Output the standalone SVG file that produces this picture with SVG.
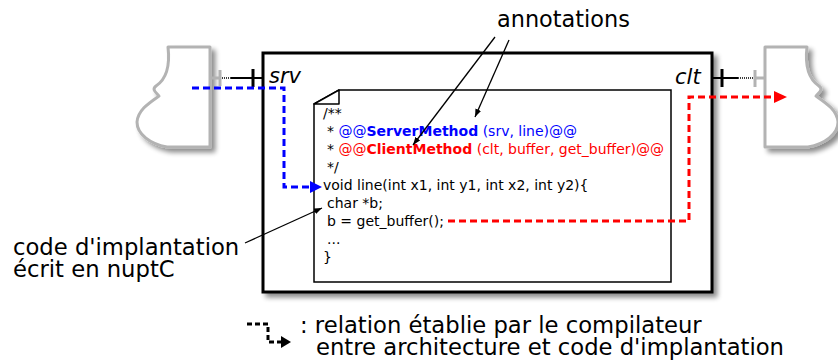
<svg xmlns="http://www.w3.org/2000/svg" width="838" height="363" viewBox="0 0 838 363">
<style>
text{font-family:"DejaVu Sans","Liberation Sans",sans-serif;fill:#000}
.code{font-size:14px}
.big{font-size:22.7px}
.port{font-size:21px;font-style:italic}
.blue{fill:#0000ff}
.red{fill:#ff0000}
.b{font-weight:bold}
.grey{stroke:#b3b3b3;fill:none;stroke-width:3}
.comp{stroke:#b3b3b3;fill:#fff;stroke-width:3;stroke-linejoin:round}
.thin{stroke:#000;stroke-width:1.3;fill:none}
</style>
<defs>
<filter id="sh" x="-15%" y="-15%" width="140%" height="140%">
<feGaussianBlur in="SourceAlpha" stdDeviation="2.5" result="bl"/>
<feOffset in="bl" dx="4" dy="4" result="of"/>
<feComponentTransfer in="of" result="s"><feFuncA type="linear" slope="0.45"/></feComponentTransfer>
<feMerge><feMergeNode in="s"/><feMergeNode in="SourceGraphic"/></feMerge>
</filter>
<marker id="ah" markerWidth="8" markerHeight="6" refX="8" refY="3" orient="auto" markerUnits="userSpaceOnUse">
<path d="M0,0 L8,3 L0,6 Z" fill="#000"/>
</marker>
</defs>

<g id="srv-component" filter="url(#sh)">
<path class="comp" d="M210 47 L168 47 C170 64 168 78 156 86 C151 90 157 93 159 96 C149 103 138 110 137 122 C137 134 150 144 167 147 L210 147 Z"/>
</g>
<g id="clt-component" filter="url(#sh)">
<path class="comp" d="M765 47 L807 47 C805 64 807 78 819 86 C824 90 818 93 816 96 C826 103 837 110 838 122 C838 134 825 144 808 147 L765 147 Z"/>
</g>

<g id="main-component">
<rect x="263" y="53" width="449" height="239" fill="#fff" stroke="#000" stroke-width="3" filter="url(#sh)"/>
<text class="port" x="269" y="83">srv</text>
<text class="port" x="675" y="84">clt</text>
</g>

<g id="ports">
<line class="grey" x1="211" y1="78" x2="220" y2="78"/>
<line class="grey" x1="220" y1="70" x2="220" y2="86"/>
<line x1="222" y1="78" x2="231" y2="78" stroke="#000" stroke-width="1.5" stroke-dasharray="1,1"/>
<line x1="231" y1="78" x2="262" y2="78" stroke="#000" stroke-width="2"/>
<line x1="253" y1="69" x2="253" y2="87" stroke="#000" stroke-width="3"/>
<line x1="713" y1="78" x2="738" y2="78" stroke="#000" stroke-width="2"/>
<line x1="722" y1="69" x2="722" y2="87" stroke="#000" stroke-width="3"/>
<line x1="738" y1="78" x2="753" y2="78" stroke="#000" stroke-width="1.5" stroke-dasharray="1,1"/>
<line class="grey" x1="755" y1="70" x2="755" y2="87"/>
<line class="grey" x1="755" y1="78" x2="764" y2="78"/>
</g>

<g id="code-document">
<path d="M339 90 L671 90 L671 282 L314 282 L314 104 Z" fill="#fff" stroke="#000" stroke-width="1.5"/>
<path d="M314 104 L339 90 L339 104 Z" fill="#fff" stroke="#000" stroke-width="1.5" stroke-linejoin="round"/>
<text class="code" x="323" y="118">/**</text>
<text class="code blue" x="327" y="136"><tspan fill="#000">* </tspan>@@<tspan class="b">ServerMethod</tspan> (srv, line)@@</text>
<text class="code red" x="327" y="154"><tspan fill="#000">* </tspan>@@<tspan class="b">ClientMethod</tspan> (clt, buffer, get_buffer)@@</text>
<text class="code" x="327" y="172">*/</text>
<text class="code" x="323" y="190">void line(int x1, int y1, int x2, int y2){</text>
<text class="code" x="327" y="208">char *b;</text>
<text class="code" x="327" y="226">b = get_buffer();</text>
<text class="code" x="327" y="244">...</text>
<text class="code" x="323" y="262">}</text>
</g>

<g id="annotations-label">
<text class="big" x="497" y="27" style="font-size:22.4px">annotations</text>
</g>
<g id="implantation-label">
<text class="big" x="13" y="255">code d'implantation</text>
<text class="big" x="13" y="277">écrit en nuptC</text>
</g>

<g id="connectors">
<path d="M192 88 H284 V187 H312" fill="none" stroke="#0000ff" stroke-width="3" stroke-dasharray="7,4"/>
<path d="M310 181 L322 187 L310 193 Z" fill="#0000ff"/>
<path d="M448 221 H689 V97 H775" fill="none" stroke="#ff0000" stroke-width="3" stroke-dasharray="7,4"/>
<path d="M774 91 L787 97 L774 103 Z" fill="#ff0000"/>
<line class="thin" x1="495" y1="37" x2="413" y2="145" marker-end="url(#ah)"/>
<line class="thin" x1="509" y1="40" x2="475" y2="117" marker-end="url(#ah)"/>
<line class="thin" x1="245" y1="243" x2="322" y2="208" marker-end="url(#ah)"/>
</g>

<g id="legend">
<path d="M247 324 H268 V342 H282" fill="none" stroke="#000" stroke-width="3" stroke-dasharray="5,3"/>
<path d="M281 336 L291 342 L281 348 Z" fill="#000"/>
<text class="big" x="300" y="333">: relation établie par le compilateur</text>
<text class="big" x="316" y="355">entre architecture et code d'implantation</text>
</g>
</svg>
